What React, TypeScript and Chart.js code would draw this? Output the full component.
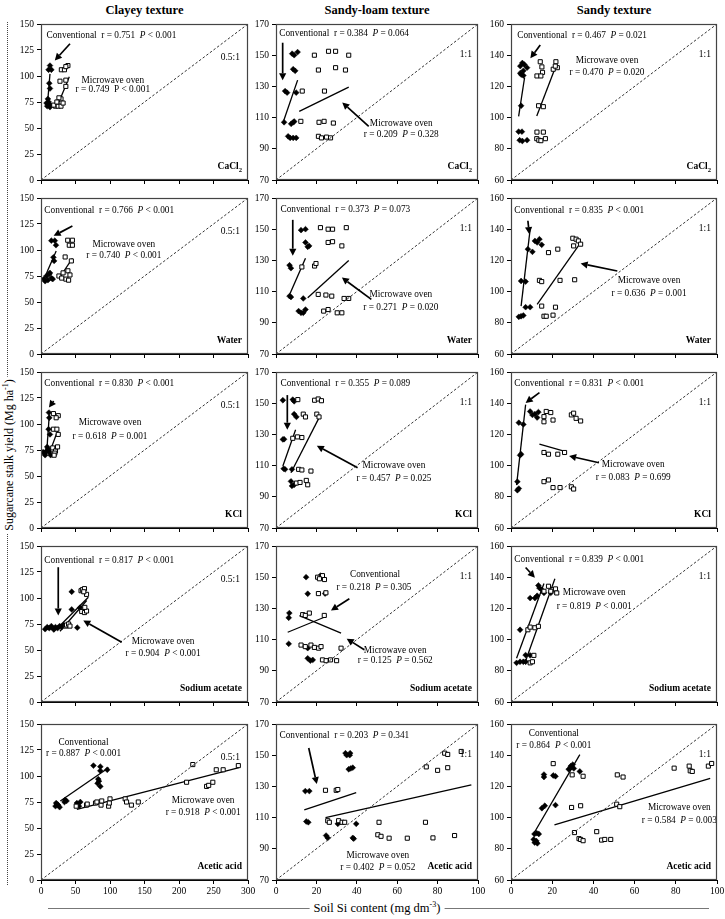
import React, { useEffect, useRef } from 'react';
import { Chart, registerables } from 'chart.js';
Chart.register(...registerables);

type Pt = [number, number];
const FONT = '"Liberation Serif", "Times New Roman", Times, serif';

const textures = ['Clayey texture', 'Sandy-loam texture', 'Sandy texture'];
const extractants = ['CaCl~2', 'Water', 'KCl', 'Sodium acetate', 'Acetic acid'];
const ratioLabels = ['0.5:1', '1:1', '1:1'];
const xRanges = [[0, 300, 50], [0, 100, 20], [0, 100, 20]];
const yRanges = [[0, 150, 25], [70, 170, 20], [60, 160, 20]];

// ---------- Clayey texture ----------
const clayCaCl2Conv: Pt[] = [[9,71],[10,73],[12,72],[8,74],[11,75],[13,70],[13,88],[12,93],[11,106],[15,106],[13,110],[10,78],[14,72]];
const clayCaCl2Micro: Pt[] = [[29.5,106],[34,106],[39,110],[36,109],[27.5,95],[36,96],[36,90],[29,78],[26,79],[21,71],[18.5,72],[25,71],[29,71],[23,75],[32,74]];
const clayCaCl2ConvFit = [9, 70, 13, 102];
const clayCaCl2MicroFit = [23.6, 70.9, 41, 99.3];

const clayWaterConv: Pt[] = [[15,109],[20,109],[21.7,104.6],[18,93],[19,89.5],[8,75],[12,77],[15,73],[6,70],[10,71],[17,72],[13,78],[4,72]];
const clayWaterMicro: Pt[] = [[38.7,109.4],[45.5,109.4],[41,104.6],[45.5,104.6],[35,93.3],[44,89.5],[26,75],[32,78],[39,80],[36,72],[40,71],[30,73],[42,76]];
const clayWaterConvFit = [5, 73, 22, 99];
const clayWaterMicroFit = [28.5, 75, 45.5, 92];

const clayKclConv: Pt[] = [[11.5,111],[12,106],[11,95],[13,90],[5,72],[8,74],[10,76],[12,73],[14,70],[9,78],[6,70],[3,73]];
const clayKclMicro: Pt[] = [[18,110],[25,108],[22,106],[18,95],[23,95],[25,90],[17,77],[21,74],[20,72],[24,78],[19,70]];
const clayKclConvFit = [8, 70, 12, 109];
const clayKclMicroFit = [11.5, 71, 25, 95];

const claySodConv: Pt[] = [[6,70],[9,72],[12,71],[15,73],[18,70],[21,72],[24,71],[27,73],[30,72],[33,74],[44.5,106],[44.5,89],[56.5,90.7],[52.6,71.5]];
const claySodMicro: Pt[] = [[36,73],[37,74],[40,75],[42,73],[58,107],[60,108],[63,109],[66,103.5],[62,106],[59,87],[63,86],[66,87.5],[63.5,91]];
const claySodConvFit = [17.9, 67, 68.6, 100.8];
const claySodMicroFit = [27.5, 68, 66.2, 97.6];

const clayAcConv: Pt[] = [[21,71],[23,73],[25,72],[27,70],[22,74],[34,75],[35,77],[37,76],[52,74],[55,71],[57,75],[76,110],[86,109],[86,105],[83,97],[82,93],[84,95],[86,90],[96,106]];
const clayAcMicro: Pt[] = [[51,71],[66,72],[67,73],[79,74],[81,75],[87,72],[88,76],[98,71],[100,78],[99,74],[122,78],[124,75],[131,72],[141,75],[211,94],[220,111],[240,90],[243,91],[249,94],[254,106],[264,106],[286,110]];
const clayAcConvFit = [28, 76, 98, 108];
const clayAcMicroFit = [52, 68, 287, 108];

// ---------- Sandy-loam texture ----------
const loamCaCl2Conv: Pt[] = [[8,151],[9,150],[10.7,152],[8.5,141],[9.5,140],[4.5,127],[5.5,126],[10,126],[4,107],[7.5,106],[8.5,107],[9,107.5],[6,98],[7,97],[8.5,97],[10,97]];
const loamCaCl2Micro: Pt[] = [[19,150],[26,152.5],[29.5,152.5],[36,150],[21,140.5],[29.5,142],[34.4,140.5],[13,127],[24,127],[12.3,107.6],[21.3,107],[23.8,107.6],[28.4,106.5],[21,98],[22.5,97],[25,97.5],[27,97]];
const loamCaCl2ConvFit = [3.8, 108, 10.7, 134];
const loamCaCl2MicroFit = [11.5, 114, 36, 129.5];

const loamWaterConv: Pt[] = [[6.7,126.9],[7.4,125],[12.4,149.4],[14.6,150],[14.6,141.5],[16.4,139.3],[15.7,138.7],[6.7,107.1],[7.4,106.5],[13.5,105.6],[11.2,97.5],[12.4,96.4],[14.6,98.5],[13.5,96.4]];
const loamWaterMicro: Pt[] = [[12.8,125.8],[19.1,126.4],[19.8,128],[22,151],[25.8,150],[28,150],[34.8,151],[25.8,141.5],[28,142],[32.6,139.3],[20.9,108.2],[24.7,107.8],[27.6,107.1],[33.7,105.6],[36,105.6],[23.6,97.5],[25.8,98.5],[32.6,96.4],[30.3,96.4]];
const loamWaterConvFit = [6.7, 108, 14.6, 131.4];
const loamWaterMicroFit = [15.7, 106, 36, 130];

const loamKclConv: Pt[] = [[3.4,151.9],[8.3,152.3],[9,151.2],[9,143],[10.1,141.2],[3.4,126.8],[4,126.9],[3.8,108],[4.5,107.6],[7.9,107.6],[7.4,99.9],[7.9,97],[9,97.7]];
const loamKclMicro: Pt[] = [[10.8,152.3],[13.5,143],[14.6,141.2],[19.1,151.9],[20.9,152.7],[22.5,151.6],[20.2,143],[21.3,141.2],[8.3,127.5],[10.6,128.4],[12.8,128],[11.2,107.6],[12.8,107.2],[17.3,106.5],[10.1,98.8],[11.9,99.2],[15,100.5],[15.7,97.7]];
const loamKclConvFit = [3.4, 109.8, 9.7, 133];
const loamKclMicroFit = [7.4, 105.4, 21.8, 141.9];

const loamSodConv: Pt[] = [[6.3,124],[6.6,127],[6.3,107.3],[14.9,150],[15.7,139.4],[15.7,104.5],[15.7,98],[17,96.5],[18.2,97],[22.5,150],[24.3,139.5],[22,151]];
const loamSodMicro: Pt[] = [[20.6,150],[23,151],[24,148.5],[21.5,149],[21,139.5],[24.7,140],[13.2,126],[16.5,127],[14.5,125.5],[23.9,125.5],[12.4,106.5],[14.5,105.5],[17.3,106.5],[19,105],[21.1,104.5],[22.3,105.5],[32.2,104.5],[23,97],[24.8,96.5],[27,97],[30,96.5]];
const loamSodConvFit = [5.8, 114.7, 24.8, 124.8];
const loamSodMicroFit = [11.6, 125.4, 32.2, 114.1];

const loamAcConv: Pt[] = [[14.5,127],[16.5,127],[15,107.5],[16,107],[34.4,151.3],[36.7,151.3],[35,150],[36.5,150],[36,141],[38,142],[37,141.5],[24.8,98.5],[25.6,97],[38,97],[38.5,96.5],[30.6,106],[39.7,106]];
const loamAcMicro: Pt[] = [[24.5,127.5],[29.8,127.5],[30.6,128],[25.6,108],[26.4,107],[31,108],[32.7,107],[34,107],[51,107],[50.4,99],[52,98],[56,96.8],[65,96.8],[74,107],[77.7,97],[88.4,98.5],[74.4,142.5],[80,140.3],[83.5,151.3],[85,150.5],[85,142],[91.7,152.4]];
const loamAcConvFit = [14, 115, 39.7, 126];
const loamAcMicroFit = [24.5, 110, 96.7, 131];

// ---------- Sandy texture ----------
const sandCaCl2Conv: Pt[] = [[4.5,133],[5.5,135],[6.5,134],[7.8,132],[6,130],[4.5,128.5],[6,127],[5,127.5],[4.9,107.6],[3.7,91],[5.3,91],[4.2,85.5],[5.5,85],[7.8,85.5]];
const sandCaCl2Micro: Pt[] = [[14.2,135.8],[15,132.5],[15.3,129],[12.6,126.7],[14.5,126.7],[13.4,107.6],[15.7,107],[21.8,135.8],[20.5,131],[22.5,132],[21.5,133],[12.6,90.7],[15.7,90.7],[12.5,86.5],[13.5,85.5],[14.5,85.2],[16.7,86.5]];
const sandCaCl2ConvFit = [3.7, 100.8, 6.6, 125.7];
const sandCaCl2MicroFit = [12.5, 101, 21.2, 131];

const sandWaterConv: Pt[] = [[3.8,83.8],[4.9,84.2],[6,84.7],[7.1,90],[9.3,90],[4.9,106.8],[7.1,106.4],[8.2,127.2],[10.4,125.5],[11.6,132.5],[13.8,133.6],[14.9,130],[12.7,131.5]];
const sandWaterMicro: Pt[] = [[18.2,125],[22.7,127.2],[30,134.2],[31.6,133.6],[32.7,132.5],[33.8,130.4],[30.4,129.3],[13.8,107.2],[14.9,106.4],[23.8,107.2],[30.9,107.6],[14.9,90.7],[16,84.2],[17.1,84.2],[20.4,84.9],[21.6,90]];
const sandWaterConvFit = [4.9, 90.7, 9.3, 140];
const sandWaterMicroFit = [12.7, 91.8, 32.7, 129.3];

const sandKclConv: Pt[] = [[3.1,84.2],[3.8,85.3],[3.1,89.7],[4.9,107.3],[4.4,106.6],[3.8,127.5],[6,126.4],[9.3,134.7],[11.6,133],[12.7,130.8],[13.3,134.3],[10.4,132.5]];
const sandKclMicro: Pt[] = [[16,128.1],[17.1,134.7],[19.3,134],[20.4,129.2],[16,131.4],[16,108.4],[18.2,107.3],[22.7,107.3],[26,108.4],[29.3,132.5],[30.4,133.6],[31.6,130.3],[33.8,128.6],[16,89.7],[18.2,90.8],[20.4,85.9],[23.8,85.9],[29.3,86.4],[30.4,85]];
const sandKclConvFit = [2.7, 87.5, 7.1, 139.1];
const sandKclMicroFit = [13.8, 113.8, 25.3, 109.5];

const sandSodConv: Pt[] = [[2.7,85.1],[4.4,85.8],[6,85.8],[7.1,85.8],[7.1,90.1],[9.3,89.9],[4.4,106.3],[9.3,126.6],[11.6,126.6],[12.7,128.1],[13.8,133.1],[14.9,132],[16,129.9],[19.3,129.9],[13.3,134.7]];
const sandSodMicro: Pt[] = [[8.2,106.3],[9.3,108],[11.6,107.6],[13.3,108.5],[9.3,85.1],[10.4,85.8],[11.1,89.9],[16,131],[18.2,134.2],[20.4,132],[21.6,132.5],[22.2,129.9],[19.3,131]];
const sandSodConvFit = [2.7, 88, 16, 136];
const sandSodMicroFit = [7, 86, 21.3, 139];

const sandAcConv: Pt[] = [[11.4,89.5],[12.5,90],[13.5,89.5],[11,86],[11.5,84],[12.3,85],[12.8,83.5],[15,106],[16.4,107.6],[16,126],[16,127.6],[20.5,127],[21.6,126.5],[21.6,108],[28,131],[29,133],[30,134],[30.5,131.5],[29.5,132.5],[33.4,129.6]];
const sandAcMicro: Pt[] = [[20.5,134.6],[29.7,127.4],[29.4,106.5],[33.8,107.6],[35,126.5],[30.8,90.4],[33,86.5],[33.8,86],[35,85.2],[41.6,91],[44,85.6],[45.5,86],[48.4,86],[51.3,108.6],[52.8,107],[51.6,127.4],[54.4,126],[79.2,131.7],[86.5,133],[87,130],[88,129.6],[95.8,133],[97.4,134.7]];
const sandAcConvFit = [10.7, 89, 33.4, 140.4];
const sandAcMicroFit = [21.1, 95.4, 96.7, 125.2];

type TextSpec = [number, number, string, 'l' | 'c'];
interface PanelSpec { conv: Pt[]; micro: Pt[]; convFit: number[]; microFit: number[]; arrows: number[][]; texts: TextSpec[]; }

const PANELS: PanelSpec[] = [
  // Row 1 — CaCl2
  { conv: clayCaCl2Conv, micro: clayCaCl2Micro, convFit: clayCaCl2ConvFit, microFit: clayCaCl2MicroFit,
    arrows: [[42, 131, 20, 115]],
    texts: [[8, 139, 'Conventional  r = 0.751  _P_ < 0.001', 'l'], [104, 96, 'Microwave oven', 'c'], [104, 87, 'r = 0.749  P < 0.001', 'c']] },
  { conv: loamCaCl2Conv, micro: loamCaCl2Micro, convFit: loamCaCl2ConvFit, microFit: loamCaCl2MicroFit,
    arrows: [[3.3, 158, 3.3, 134], [45.9, 104.4, 32.8, 119.7]],
    texts: [[1.6, 164, 'Conventional  r = 0.384  _P_ = 0.064', 'l'], [62, 106.5, 'Microwave oven', 'c'], [62, 99, 'r = 0.209  _P_ = 0.328', 'c']] },
  { conv: sandCaCl2Conv, micro: sandCaCl2Micro, convFit: sandCaCl2ConvFit, microFit: sandCaCl2MicroFit,
    arrows: [[14.2, 146.6, 9.4, 138]],
    texts: [[3, 152.6, 'Conventional  r = 0.467  _P_ = 0.021', 'l'], [46.6, 136.8, 'Microwave oven', 'c'], [46.6, 129, 'r = 0.470  _P_ = 0.020', 'c']] },
  // Row 2 — Water
  { conv: clayWaterConv, micro: clayWaterMicro, convFit: clayWaterConvFit, microFit: clayWaterMicroFit,
    arrows: [[45.5, 123, 18.3, 113.6]],
    texts: [[4.8, 138.4, 'Conventional  r = 0.766  _P_ < 0.001', 'l'], [120, 105.6, 'Microwave oven', 'c'], [120, 94.3, 'r = 0.740  _P_ < 0.001', 'c']] },
  { conv: loamWaterConv, micro: loamWaterMicro, convFit: loamWaterConvFit, microFit: loamWaterMicroFit,
    arrows: [[8.3, 156, 8.3, 133], [47.2, 105, 32.6, 119]],
    texts: [[2.2, 162.3, 'Conventional  r = 0.373  _P_ = 0.073', 'l'], [61.8, 108, 'Microwave oven', 'c'], [61.8, 100, 'r = 0.271  _P_ = 0.020', 'c']] },
  { conv: sandWaterConv, micro: sandWaterMicro, convFit: sandWaterConvFit, microFit: sandWaterMicroFit,
    arrows: [[8.2, 145.4, 8.9, 136.8], [51.6, 113.2, 33.8, 118]],
    texts: [[1.6, 152, 'Conventional  r = 0.835  _P_ < 0.001', 'l'], [67, 106.8, 'Microwave oven', 'c'], [67, 98.8, 'r = 0.636  _P_ = 0.001', 'c']] },
  // Row 3 — KCl
  { conv: clayKclConv, micro: clayKclMicro, convFit: clayKclConvFit, microFit: clayKclMicroFit,
    arrows: [[18.3, 122, 11.5, 115.8]],
    texts: [[4.8, 138.6, 'Conventional  r = 0.830  _P_ < 0.001', 'l'], [100, 101, 'Microwave oven', 'c'], [100, 88, 'r = 0.618  _P_ = 0.001', 'c']] },
  { conv: loamKclConv, micro: loamKclMicro, convFit: loamKclConvFit, microFit: loamKclMicroFit,
    arrows: [[5.6, 155.2, 5.6, 133], [40.4, 108.7, 20.2, 122.7]],
    texts: [[2.2, 162.5, 'Conventional  r = 0.355  _P_ = 0.089', 'l'], [58.4, 110.3, 'Microwave oven', 'c'], [58.4, 102, 'r = 0.457  _P_ = 0.025', 'c']] },
  { conv: sandKclConv, micro: sandKclMicro, convFit: sandKclConvFit, microFit: sandKclMicroFit,
    arrows: [[13.8, 146.8, 7.1, 140.2], [42.7, 101.8, 28.2, 106.2]],
    texts: [[1.6, 152.4, 'Conventional  r = 0.831  _P_ < 0.001', 'l'], [59.3, 100.7, 'Microwave oven', 'c'], [59.3, 92.6, 'r = 0.083  _P_ = 0.699', 'c']] },
  // Row 4 — Sodium acetate
  { conv: claySodConv, micro: claySodMicro, convFit: claySodConvFit, microFit: claySodMicroFit,
    arrows: [[25, 129.6, 25, 83.2], [117, 57.5, 61.3, 78.4]],
    texts: [[4.75, 136, 'Conventional  r = 0.817  _P_ < 0.001', 'l'], [177, 58.2, 'Microwave oven', 'c'], [177, 47, 'r = 0.904  _P_ < 0.001', 'c']] },
  { conv: loamSodConv, micro: loamSodMicro, convFit: loamSodConvFit, microFit: loamSodMicroFit,
    arrows: [[36.3, 136.2, 27.2, 128.7], [43.7, 103.5, 35, 110.6]],
    texts: [[49, 152, 'Conventional', 'c'], [48.5, 143.6, 'r = 0.218  _P_ = 0.305', 'c'], [59, 103, 'Microwave oven', 'c'], [59, 96.6, 'r = 0.125  _P_ = 0.562', 'c']] },
  { conv: sandSodConv, micro: sandSodMicro, convFit: sandSodConvFit, microFit: sandSodMicroFit,
    arrows: [[7.1, 146.2, 11.6, 139.7]],
    texts: [[1.6, 151, 'Conventional  r = 0.839  _P_ < 0.001', 'l'], [40.4, 129.9, 'Microwave oven', 'c'], [40.4, 121.1, 'r = 0.819  _P_ < 0.001', 'c']] },
  // Row 5 — Acetic acid
  { conv: clayAcConv, micro: clayAcMicro, convFit: clayAcConvFit, microFit: clayAcMicroFit,
    arrows: [],
    texts: [[61.6, 132.6, 'Conventional', 'c'], [61.6, 121.6, 'r = 0.887  _P_ < 0.001', 'c'], [235, 76, 'Microwave oven', 'c'], [235, 64.4, 'r = 0.918  _P_ < 0.001', 'c']] },
  { conv: loamAcConv, micro: loamAcMicro, convFit: loamAcConvFit, microFit: loamAcMicroFit,
    arrows: [[16.2, 154.6, 20.2, 131.5]],
    texts: [[1.7, 162.3, 'Conventional  r = 0.203  _P_ = 0.341', 'l'], [50.4, 85.8, 'Microwave oven', 'c'], [50.4, 77.7, 'r = 0.402  _P_ = 0.052', 'c']] },
  { conv: sandAcConv, micro: sandAcMicro, convFit: sandAcConvFit, microFit: sandAcMicroFit,
    arrows: [],
    texts: [[20.8, 154, 'Conventional', 'c'], [20.8, 146.5, 'r = 0.864  _P_ < 0.001', 'c'], [81.7, 106.3, 'Microwave oven', 'c'], [81.7, 98.3, 'r = 0.584  _P_ = 0.003', 'c']] },
];

// layout (pixels)
const PLOT_LEFT = [41, 276, 511];
const PLOT_W = [207, 202, 206];
const ROW_TOPS = [24, 198, 372, 546, 724];
const PLOT_H = 156;
const PAD_L = 36, PAD_T = 10, PAD_R = 14, PAD_B = 22;
const ANN_SIZE = 9.3;

function drawRich(ctx: CanvasRenderingContext2D, str: string, x: number, y: number, align: 'l' | 'c' | 'r', size: number, bold = false) {
  const segs: { t: string; it: boolean; sub: boolean }[] = [];
  const [main, sub] = str.split('~');
  main.split('_').forEach((t, i) => { if (t) segs.push({ t, it: i % 2 === 1, sub: false }); });
  if (sub) segs.push({ t: sub, it: false, sub: true });
  const fontOf = (s: { it: boolean; sub: boolean }) => `${s.it ? 'italic ' : ''}${bold ? 'bold ' : ''}${s.sub ? size * 0.7 : size}px ${FONT}`;
  let total = 0;
  const widths = segs.map((s) => { ctx.font = fontOf(s); const w = ctx.measureText(s.t).width; total += w; return w; });
  let cx = align === 'l' ? x : align === 'c' ? x - total / 2 : x - total;
  ctx.textAlign = 'left';
  ctx.textBaseline = 'middle';
  ctx.fillStyle = '#000';
  segs.forEach((s, i) => {
    ctx.font = fontOf(s);
    ctx.fillText(s.t, cx, s.sub ? y + size * 0.3 : y);
    cx += widths[i];
  });
}

function drawArrow(ctx: CanvasRenderingContext2D, x1: number, y1: number, x2: number, y2: number) {
  const ang = Math.atan2(y2 - y1, x2 - x1);
  const hl = 7, hw = 3.6;
  const bx = x2 - hl * Math.cos(ang), by = y2 - hl * Math.sin(ang);
  ctx.save();
  ctx.strokeStyle = '#000';
  ctx.fillStyle = '#000';
  ctx.lineWidth = 1.7;
  ctx.beginPath();
  ctx.moveTo(x1, y1);
  ctx.lineTo(bx, by);
  ctx.stroke();
  ctx.beginPath();
  ctx.moveTo(x2, y2);
  ctx.lineTo(bx + hw * Math.sin(ang), by - hw * Math.cos(ang));
  ctx.lineTo(bx - hw * Math.sin(ang), by + hw * Math.cos(ang));
  ctx.closePath();
  ctx.fill();
  ctx.restore();
}

function Panel({ idx }: { idx: number }) {
  const ref = useRef<HTMLCanvasElement>(null);
  const r = Math.floor(idx / 3), c = idx % 3;
  const w = PLOT_W[c] + PAD_L + PAD_R;
  const h = PLOT_H + PAD_T + PAD_B;
  const left = PLOT_LEFT[c] - PAD_L;
  const top = ROW_TOPS[r] - PAD_T;

  useEffect(() => {
    const p = PANELS[idx];
    const [xmin, xmax, xs] = xRanges[c];
    const [ymin, ymax, ys] = yRanges[c];
    const toXY = (a: Pt[]) => a.map(([x, y]) => ({ x, y }));
    const fitXY = (f: number[]) => [{ x: f[0], y: f[1] }, { x: f[2], y: f[3] }];
    const showX = r === 4;

    const annot = {
      id: 'annot' + idx,
      afterDatasetsDraw(chart: any) {
        const ctx = chart.ctx as CanvasRenderingContext2D;
        const xs_ = chart.scales.x, ys_ = chart.scales.y;
        const ca = chart.chartArea;
        ctx.save();
        p.arrows.forEach((a) => drawArrow(ctx, xs_.getPixelForValue(a[0]), ys_.getPixelForValue(a[1]), xs_.getPixelForValue(a[2]), ys_.getPixelForValue(a[3])));
        p.texts.forEach(([x, y, t, al]) => drawRich(ctx, t, xs_.getPixelForValue(x), ys_.getPixelForValue(y), al, ANN_SIZE));
        drawRich(ctx, ratioLabels[c], ca.right - (c === 0 ? 8 : 6), ca.top + (c === 0 ? 33 : 30), 'r', 9.5);
        drawRich(ctx, extractants[r], ca.right - 6, ca.bottom - 13, 'r', 9.5, true);
        ctx.strokeStyle = '#444';
        ctx.lineWidth = 1.2;
        ctx.strokeRect(ca.left + 0.5, ca.top + 0.5, ca.right - ca.left - 1, ca.bottom - ca.top - 1);
        ctx.restore();
      },
    };

    const chart = new Chart(ref.current!, {
      type: 'scatter',
      data: {
        datasets: [
          { data: [{ x: xmin, y: ymin }, { x: xmax, y: ymax }], showLine: true, borderColor: '#333', borderWidth: 1, borderDash: [2.5, 2], pointRadius: 0 } as any,
          { data: toXY(p.micro), pointStyle: 'rect', pointRadius: 2.9, backgroundColor: '#fff', borderColor: '#000', borderWidth: 1 },
          { data: toXY(p.conv), pointStyle: 'rectRot', pointRadius: 2.9, backgroundColor: '#000', borderColor: '#000', borderWidth: 0.5 },
          { data: fitXY(p.convFit), showLine: true, borderColor: '#000', borderWidth: 1.3, pointRadius: 0 } as any,
          { data: fitXY(p.microFit), showLine: true, borderColor: '#000', borderWidth: 1.3, pointRadius: 0 } as any,
        ],
      },
      options: {
        animation: false,
        responsive: false,
        events: [],
        layout: { autoPadding: false, padding: { left: 0, top: PAD_T, right: PAD_R, bottom: 0 } } as any,
        plugins: { legend: { display: false }, tooltip: { enabled: false } },
        scales: {
          x: {
            type: 'linear', min: xmin, max: xmax,
            ticks: { stepSize: xs, autoSkip: false, maxRotation: 0, color: '#000', padding: 2, font: { family: FONT, size: 9.5 },
              callback: (v: any) => (showX ? String(v) : '') },
            grid: { drawOnChartArea: false, drawTicks: true, tickLength: 4, color: '#000' },
            border: { color: '#000', width: 1 },
            afterFit: (s: any) => { s.height = PAD_B; },
          },
          y: {
            type: 'linear', min: ymin, max: ymax,
            ticks: { stepSize: ys, autoSkip: false, color: '#000', padding: 3, font: { family: FONT, size: 9.5 } },
            grid: { drawOnChartArea: false, drawTicks: true, tickLength: 4, color: '#000' },
            border: { color: '#000', width: 1 },
            afterFit: (s: any) => { s.width = PAD_L; },
          },
        },
      },
      plugins: [annot],
    } as any);
    return () => chart.destroy();
  }, []);

  return <canvas ref={ref} width={w} height={h} style={{ position: 'absolute', left, top, width: w, height: h }} />;
}

export default function App() {
  return (
    <div style={{ position: 'absolute', left: 0, top: 0, width: 725, height: 919, background: '#fff', fontFamily: FONT, color: '#000', overflow: 'hidden' }}>
      {textures.map((t, i) => (
        <div key={t} style={{ position: 'absolute', left: PLOT_LEFT[i] + PLOT_W[i] / 2, top: 10, transform: 'translate(-50%,-50%)', fontWeight: 'bold', fontSize: 12.5, whiteSpace: 'nowrap', lineHeight: 1 }}>{t}</div>
      ))}
      <div style={{ position: 'absolute', left: 7, top: 22, height: 863, borderLeft: '1px dotted #444' }} />
      <div style={{ position: 'absolute', left: 7.5, top: 455, transform: 'translate(-50%,-50%) rotate(-90deg)', whiteSpace: 'nowrap', background: '#fff', padding: '0 3px', fontSize: 12, lineHeight: 1 }}>
        Sugarcane stalk yield (Mg ha<sup style={{ fontSize: 8 }}>-1</sup>)
      </div>
      <div style={{ position: 'absolute', left: 48, top: 908, width: 661, borderTop: '1.5px solid #777' }} />
      <div style={{ position: 'absolute', left: 377, top: 908, transform: 'translate(-50%,-50%)', whiteSpace: 'nowrap', background: '#fff', padding: '0 4px', fontSize: 12.5, lineHeight: 1 }}>
        Soil Si content (mg dm<sup style={{ fontSize: 8 }}>-3</sup>)
      </div>
      {PANELS.map((_, i) => <Panel key={i} idx={i} />)}
    </div>
  );
}
